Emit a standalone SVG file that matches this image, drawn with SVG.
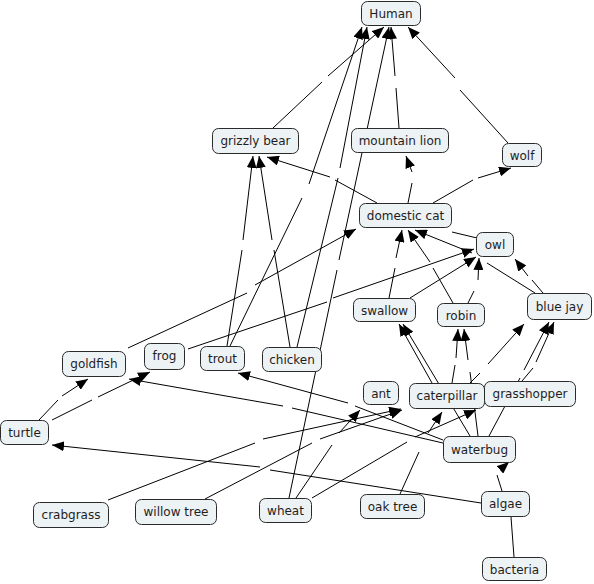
<svg xmlns="http://www.w3.org/2000/svg" width="594" height="584" viewBox="0 0 594 584">
<style>
.n rect{fill:#edf2f5;stroke:#2a2a2a;stroke-width:1}
.n text{font-family:"DejaVu Sans","Verdana",sans-serif;font-size:12px;fill:#1e1e1e;text-anchor:middle}
.c path{fill:none;stroke:#000;stroke-width:1}
.c path.a{marker-end:url(#ah)}
</style>
<defs>
<marker id="ah" viewBox="0 0 12 10" refX="12" refY="5" markerWidth="12" markerHeight="10" markerUnits="userSpaceOnUse" orient="auto">
<path d="M0,0 L12,5 L0,10 z" fill="#000"/>
</marker>
</defs>
<rect width="594" height="584" fill="#fff"/>
<g id="connectors" class="c">
<path class="a" d="M273,128 L322,82 M328,76 L384,27"/>
<path class="a" d="M399,128 L396,88 M395,76 L391,27"/>
<path class="a" d="M508,143 L460,90 M455,78 L408,27"/>
<path class="a" d="M230,346 L302,198 M309,184 L362,27"/>
<path class="a" d="M297,347 L338,178 M340,168 L367,27"/>
<path class="a" d="M289,498 L337,270 M339,260 L389,27"/>
<path class="a" d="M227,346 L242,250 M243,240 L253,156"/>
<path class="a" d="M290,347 L274,250 M272,240 L259,156"/>
<path class="a" d="M377,203 L335,180 M330,177 L267,157"/>
<path class="a" d="M408,203 L412,183 M412,172 L406,156"/>
<path class="a" d="M433,203 L473,180 M478,178 L511,168"/>
<path class="a" d="M389,298 L395,268 M396,258 L402,230"/>
<path class="a" d="M453,303 L433,268 M430,262 L408,230"/>
<path class="a" d="M535,293 L487,263 M472,253 L415,230"/>
<path d="M477,238 L452,232"/>
<path class="a" d="M188,349 L327,302 M333,298 L474,249"/>
<path class="a" d="M128,348 L247,293 M255,285 L356,229"/>
<path class="a" d="M410,298 L476,257"/>
<path class="a" d="M468,303 L474,291 M478,280 L479,258"/>
<path class="a" d="M543,293 L532,280 M528,276 L515,259"/>
<path class="a" d="M432,383 L399,324"/>
<path class="a" d="M470,436 L403,324"/>
<path class="a" d="M452,383 L455,365 M456,358 L458,329"/>
<path class="a" d="M478,436 L470,372 M468,360 L464,329"/>
<path class="a" d="M470,383 L480,373 M488,364 L524,324"/>
<path class="a" d="M489,436 L520,378 M524,370 L549,322"/>
<path class="a" d="M522,381 L533,368 M536,362 L554,322"/>
<path class="a" d="M108,500 L255,443 M263,439 L401,409"/>
<path class="a" d="M205,499 L312,443 M320,439 L402,410"/>
<path class="a" d="M296,498 L332,445 M339,433 L360,410"/>
<path class="a" d="M312,498 L407,442 M415,437 L476,410"/>
<path class="a" d="M400,494 L419,452 M428,433 L442,412"/>
<path class="a" d="M481,503 L270,470 M260,467 L52,445"/>
<path class="a" d="M502,491 L497,475 M501,469 L509,462"/>
<path d="M514,557 L511,517"/>
<path class="a" d="M443,440 L355,406 M348,403 L238,373"/>
<path class="a" d="M443,443 L292,408 M283,406 L129,379"/>
<path class="a" d="M39,420 L58,400 M62,396 L88,379"/>
<path class="a" d="M52,420 L92,400 M98,397 L150,372"/>
</g>
<g id="human" class="n"><rect x="361.5" y="1.5" width="59" height="24" rx="6"/><text x="391" y="18">Human</text></g>
<g id="grizzly-bear" class="n"><rect x="212.5" y="128.5" width="86" height="25" rx="6"/><text x="255.5" y="145">grizzly bear</text></g>
<g id="mountain-lion" class="n"><rect x="351.5" y="128.5" width="97" height="24" rx="6"/><text x="400" y="145">mountain lion</text></g>
<g id="wolf" class="n"><rect x="502.5" y="143.5" width="39" height="23" rx="6"/><text x="522" y="159.5">wolf</text></g>
<g id="domestic-cat" class="n"><rect x="359.5" y="203.5" width="92" height="24" rx="6"/><text x="405.5" y="220">domestic cat</text></g>
<g id="owl" class="n"><rect x="476.5" y="232.5" width="37" height="24" rx="6"/><text x="495" y="249">owl</text></g>
<g id="swallow" class="n"><rect x="353.5" y="298.5" width="62" height="23" rx="6"/><text x="384.5" y="314.5">swallow</text></g>
<g id="robin" class="n"><rect x="437.5" y="303.5" width="47" height="23" rx="6"/><text x="461" y="319.5">robin</text></g>
<g id="blue-jay" class="n"><rect x="527.5" y="293.5" width="64" height="26" rx="6"/><text x="559.5" y="311">blue jay</text></g>
<g id="goldfish" class="n"><rect x="62.5" y="351.5" width="63" height="25" rx="6"/><text x="94" y="368">goldfish</text></g>
<g id="frog" class="n"><rect x="144.5" y="343.5" width="40" height="26" rx="6"/><text x="164.5" y="360">frog</text></g>
<g id="trout" class="n"><rect x="200.5" y="346.5" width="44" height="24" rx="6"/><text x="222.5" y="363">trout</text></g>
<g id="chicken" class="n"><rect x="262.5" y="347.5" width="59" height="24" rx="6"/><text x="292" y="364">chicken</text></g>
<g id="turtle" class="n"><rect x="0.5" y="420.5" width="48" height="24" rx="6"/><text x="24.5" y="437">turtle</text></g>
<g id="ant" class="n"><rect x="363.5" y="381.5" width="35" height="23" rx="6"/><text x="381" y="397.5">ant</text></g>
<g id="caterpillar" class="n"><rect x="409.5" y="383.5" width="75" height="25" rx="6"/><text x="447" y="400">caterpillar</text></g>
<g id="grasshopper" class="n"><rect x="484.5" y="381.5" width="91" height="25" rx="6"/><text x="530" y="398">grasshopper</text></g>
<g id="waterbug" class="n"><rect x="443.5" y="436.5" width="72" height="26" rx="6"/><text x="479.5" y="454">waterbug</text></g>
<g id="crabgrass" class="n"><rect x="33.5" y="502.5" width="75" height="25" rx="6"/><text x="71" y="519">crabgrass</text></g>
<g id="willow-tree" class="n"><rect x="135.5" y="499.5" width="81" height="25" rx="6"/><text x="176" y="516">willow tree</text></g>
<g id="wheat" class="n"><rect x="259.5" y="498.5" width="52" height="24" rx="6"/><text x="285.5" y="515">wheat</text></g>
<g id="oak-tree" class="n"><rect x="360.5" y="494.5" width="64" height="24" rx="6"/><text x="392.5" y="511">oak tree</text></g>
<g id="algae" class="n"><rect x="481.5" y="491.5" width="48" height="25" rx="6"/><text x="505.5" y="508">algae</text></g>
<g id="bacteria" class="n"><rect x="482.5" y="557.5" width="64" height="23" rx="6"/><text x="514.5" y="573.5">bacteria</text></g>
</svg>
